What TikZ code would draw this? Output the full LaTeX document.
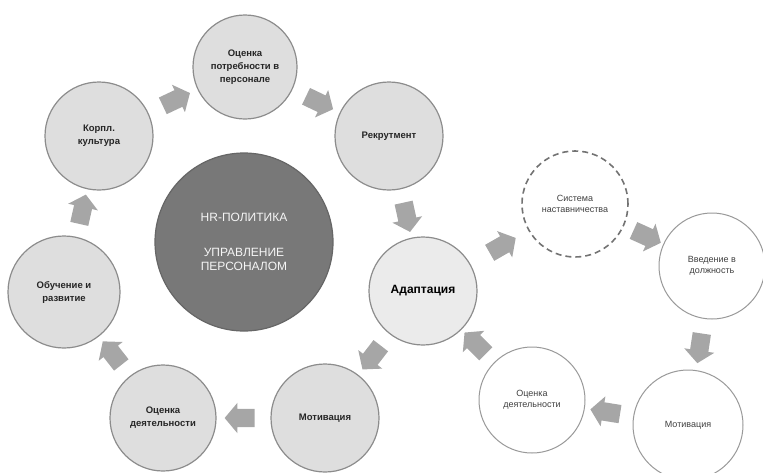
\documentclass[tikz,border=0pt]{standalone}
\usepackage{fontspec}
\setmainfont{Liberation Sans}
\usetikzlibrary{shapes.arrows}
\begin{document}
\begin{tikzpicture}[x=1pt,y=-1pt]
  \tikzset{bubble/.style={circle,draw=black!45,line width=1.2pt,fill=black!13,
             minimum size=106pt,inner sep=0pt,align=center,text=black!85,
             font=\bfseries\fontsize{9.5}{13}\selectfont},
           hub/.style={bubble,fill=black!53,draw=black!60,minimum size=178pt,
             text=black!4,font=\fontsize{12}{14}\selectfont},
           plain/.style={bubble,fill=white,draw=black!40,line width=1pt,text=black!75,
             font=\fontsize{9}{11}\selectfont},
           mentor/.style={plain,draw=black!55,line width=1.6pt,dash pattern=on 6pt off 4pt},
           flow/.style={single arrow,sloped,allow upside down,fill=black!35,draw=none,
             inner xsep=0pt,inner ysep=9pt,minimum height=30pt,
             single arrow head extend=6pt,single arrow tip angle=100}}
  \useasboundingbox (0,0) rectangle (763,472);
  \node[bubble,minimum size=104pt] (need) at (245,67) {Оценка\\потребности в\\персонале};
  \node[bubble,minimum size=108pt] (corp) at (99,136) {Корпл.\\культура};
  \node[bubble,minimum size=108pt] (recr) at (389,136) {Рекрутмент};
  \node[hub] (hr) at (244,242) {HR-ПОЛИТИКА\\[21pt]УПРАВЛЕНИЕ\\ПЕРСОНАЛОМ};
  \node[bubble,minimum size=112pt] (learn) at (64,292) {Обучение и\\развитие};
  \node[bubble] (evalL) at (163,418) {Оценка\\деятельности};
  \node[bubble,minimum size=108pt] (motivL) at (325,418) {Мотивация};
  \node[bubble,fill=black!8,minimum size=108pt,text=black,
        font=\bfseries\fontsize{12}{14}\selectfont] (adapt) at (423,291) {Адаптация};
  \node[mentor] (mentor) at (575,204) {Система\\наставничества};
  \node[plain] (intro) at (712,266) {Введение в\\должность};
  \node[plain,minimum size=110pt] (motivR) at (688,425) {Мотивация};
  \node[plain] (evalR) at (532,400) {Оценка\\деятельности};
  \path (corp) -- node[flow] {} (need);
  \path (need) -- node[flow] {} (recr);
  \path (recr) -- node[flow] {} (adapt);
  \path (adapt) -- node[flow] {} (mentor);
  \path (mentor) -- node[flow] {} (intro);
  \path (intro) -- node[flow] {} (motivR);
  \path (motivR) -- node[flow] {} (evalR);
  \path (evalR) -- node[flow] {} (adapt);
  \path (adapt) -- node[flow] {} (motivL);
  \path (motivL) -- node[flow] {} (evalL);
  \path (evalL) -- node[flow] {} (learn);
  \path (learn) -- node[flow] {} (corp);
\end{tikzpicture}
\end{document}
